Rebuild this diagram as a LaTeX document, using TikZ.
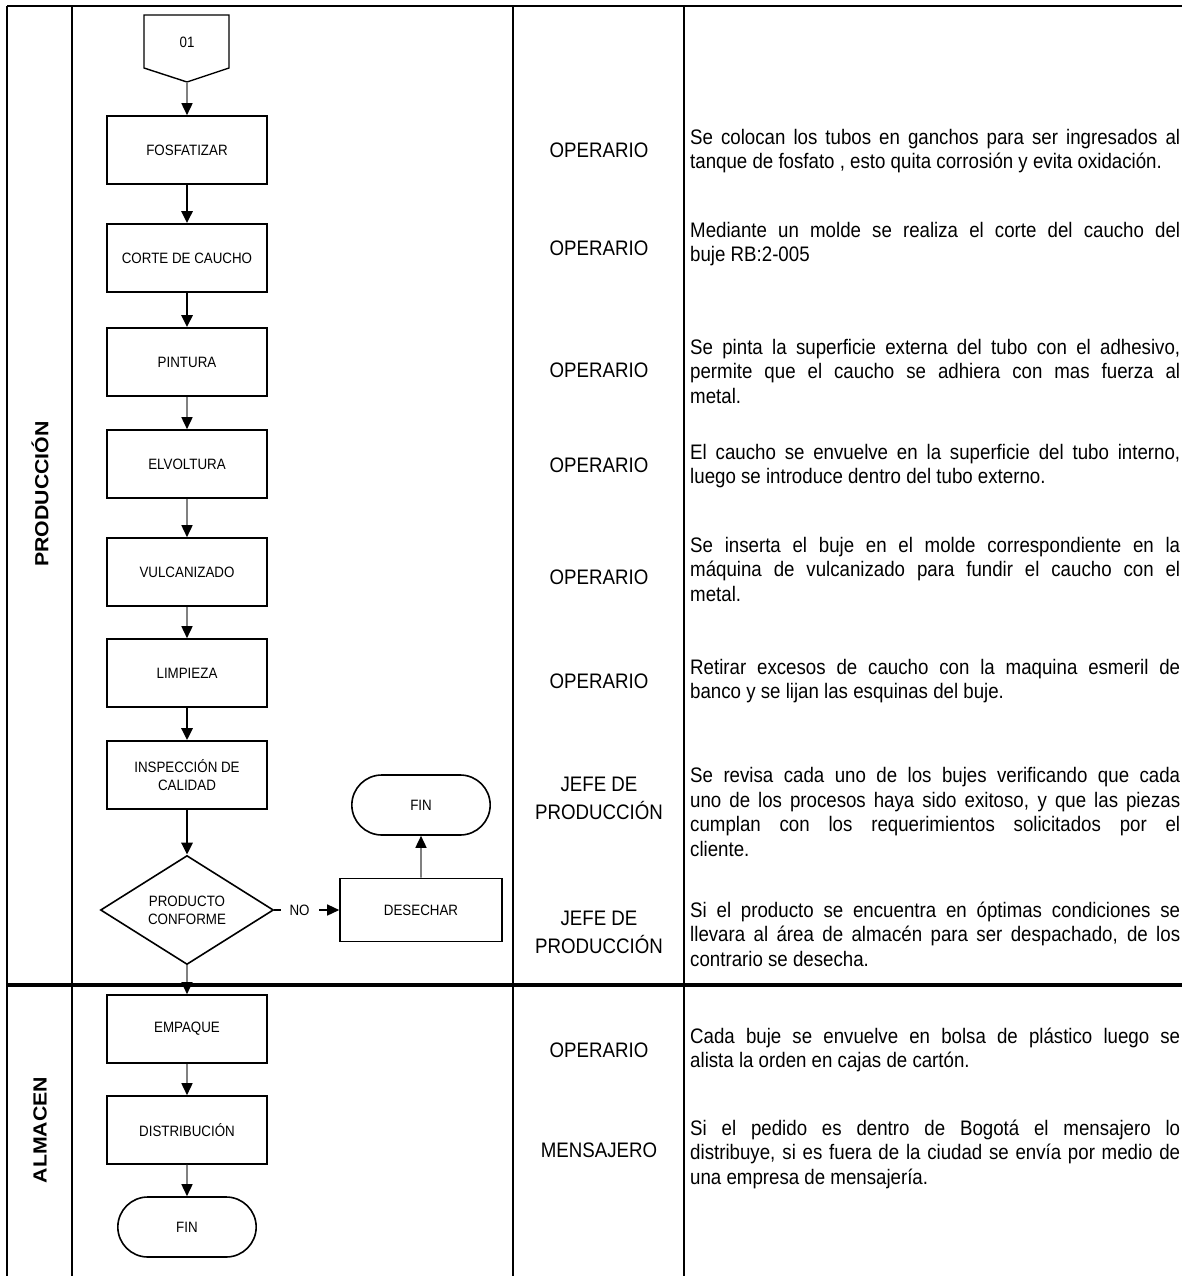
\documentclass[tikz,border=0pt]{standalone}
\usepackage{fontspec}
\setmainfont{Liberation Sans}
\newfontfamily\narrowfont[FakeStretch=0.89]{Liberation Sans}
\newfontfamily\lanefont[FakeStretch=1.12]{Liberation Sans}
\usetikzlibrary{shapes.geometric,shapes.misc,arrows.meta}

\tikzset{
	proc/.style={rectangle, draw, line width=1.6pt, minimum width=160pt, minimum height=68pt, align=center, font=\narrowfont\fontsize{15}{18}\selectfont},
	term/.style={rounded rectangle, draw, line width=1.6pt, minimum width=145pt, minimum height=60pt, font=\narrowfont\fontsize{15}{18}\selectfont},
	decision/.style={diamond, draw, line width=1.6pt, minimum width=173pt, minimum height=109pt, inner sep=0pt, align=center, font=\narrowfont\fontsize{15}{18}\selectfont},
	role/.style={align=center, font=\narrowfont\fontsize{21}{28}\selectfont},
	desc/.style={anchor=west, inner sep=0pt, text width=490pt, align=justify, font=\narrowfont\fontsize{21}{24.5}\selectfont},
	lane/.style={rotate=90, font=\lanefont\bfseries\fontsize{19}{22}\selectfont},
	flow/.style={draw=gray, line width=1.6pt, -{Triangle[length=12pt, width=11pt, color=black]}},
	flowb/.style={line width=2.6pt, -{Triangle[length=12pt, width=11pt]}}
}

\begin{document}
\begin{tikzpicture}[x=1pt, y=-1pt]
	\useasboundingbox (0,0) rectangle (1182,1276);

	% table
	\draw[line width=2.7pt] (7,6) -- (1182,6);
	\draw[line width=3.2pt] (7,985) -- (1182,985);
	\draw[line width=2.4pt] (7,6) -- (7,1276);
	\draw[line width=2.4pt] (72,6) -- (72,1276);
	\draw[line width=2.4pt] (513,6) -- (513,1276);
	\draw[line width=2.4pt] (684,6) -- (684,1276);

	\node[lane] (prod) at (40,494) {PRODUCCIÓN};
	\node[lane] (alm) at (40,1130) {ALMACEN};

	% flow
	\draw[line width=1.4pt] (144,15) -- (229,15) -- (229,68) -- (187,82) -- (144,68) -- cycle;
	\node[font=\narrowfont\fontsize{15}{18}\selectfont] (c01) at (187,42) {01};
	\coordinate (c01tip) at (187,82);

	\node[proc] (fosf) at (187,150) {FOSFATIZAR};
	\node[proc] (corte) at (187,258) {CORTE DE CAUCHO};
	\node[proc] (pint) at (187,362) {PINTURA};
	\node[proc] (elv) at (187,464) {ELVOLTURA};
	\node[proc] (vulc) at (187,572) {VULCANIZADO};
	\node[proc] (limp) at (187,673) {LIMPIEZA};
	\node[proc] (insp) at (187,775) {INSPECCIÓN DE\\CALIDAD};
	\node[decision] (conf) at (187,910) {PRODUCTO\\CONFORME};
	\node[proc, minimum width=162pt, minimum height=63pt] (desch) at (421,910) {DESECHAR};
	\node[term] (fin1) at (421,805) {FIN};
	\node[proc] (empq) at (187,1029) {EMPAQUE};
	\node[proc] (dist) at (187,1130) {DISTRIBUCIÓN};
	\node[term] (fin2) at (187,1227) {FIN};

	\draw[flow] (c01tip) -- (fosf);
	\draw[flowb] (fosf) -- (corte);
	\draw[flowb] (corte) -- (pint);
	\draw[flow] (pint) -- (elv);
	\draw[flow] (elv) -- (vulc);
	\draw[flow] (vulc) -- (limp);
	\draw[flowb] (limp) -- (insp);
	\draw[flowb] (insp) -- (conf);
	\draw[line width=1.4pt, -{Triangle[length=12pt, width=11pt]}] (conf) -- node[pos=0.39, fill=white, inner xsep=9pt, font=\narrowfont\fontsize{15}{18}\selectfont] {NO} (desch);
	\draw[flow] (desch) -- (fin1);
	\draw[flow] (conf) -- (empq);
	\draw[flow] (empq) -- (dist);
	\draw[flow] (dist) -- (fin2);

	% responsables
	\node[role] (r1) at (599,150) {OPERARIO};
	\node[role] (r2) at (599,248) {OPERARIO};
	\node[role] (r3) at (599,370) {OPERARIO};
	\node[role] (r4) at (599,465) {OPERARIO};
	\node[role] (r5) at (599,577) {OPERARIO};
	\node[role] (r6) at (599,681) {OPERARIO};
	\node[role] (r7) at (599,798) {JEFE DE\\PRODUCCIÓN};
	\node[role] (r8) at (599,932) {JEFE DE\\PRODUCCIÓN};
	\node[role] (r9) at (599,1050) {OPERARIO};
	\node[role] (r10) at (599,1150) {MENSAJERO};

	% descripciones
	\node[desc] (d1) at (690,151) {Se colocan los tubos en ganchos para ser ingresados al\linebreak tanque de fosfato , esto quita corrosión y evita oxidación.};
	\node[desc] (d2) at (690,244) {Mediante un molde se realiza el corte del caucho del\linebreak buje RB:2-005};
	\node[desc] (d3) at (690,371) {Se pinta la superficie externa del tubo con el adhesivo,\linebreak permite que el caucho se adhiera con mas fuerza al\linebreak metal.};
	\node[desc] (d4) at (690,466) {El caucho se envuelve en la superficie del tubo interno,\linebreak luego se introduce dentro del tubo externo.};
	\node[desc] (d5) at (690,569) {Se inserta el buje en el molde correspondiente en la\linebreak máquina de vulcanizado para fundir el caucho con el\linebreak metal.};
	\node[desc] (d6) at (690,681) {Retirar excesos de caucho con la maquina esmeril de\linebreak banco y se lijan las esquinas del buje.};
	\node[desc] (d7) at (690,812) {Se revisa cada uno de los bujes verificando que cada\linebreak uno de los procesos haya sido exitoso, y que las piezas\linebreak cumplan con los requerimientos solicitados por el\linebreak cliente.};
	\node[desc] (d8) at (690,934) {Si el producto se encuentra en óptimas condiciones se\linebreak llevara al área de almacén para ser despachado, de los\linebreak contrario se desecha.};
	\node[desc] (d9) at (690,1050) {Cada buje se envuelve en bolsa de plástico luego se\linebreak alista la orden en cajas de cartón.};
	\node[desc] (d10) at (690,1154) {Si el pedido es dentro de Bogotá el mensajero lo\linebreak distribuye, si es fuera de la ciudad se envía por medio de\linebreak una empresa de mensajería.};
\end{tikzpicture}
\end{document}
